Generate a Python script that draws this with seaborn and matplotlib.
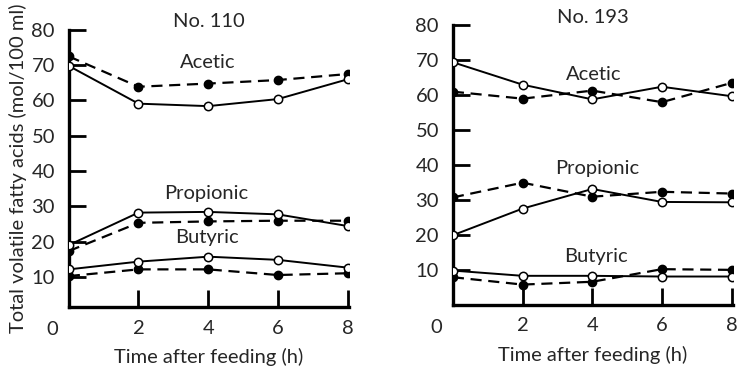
import matplotlib
matplotlib.use("Agg")
import matplotlib.pyplot as plt
import seaborn as sns
import pandas as pd

hours = [0, 2, 4, 6, 8]

# No. 110
acetic_open_110 = [69.8, 59.1, 58.4, 60.4, 66.0]
acetic_filled_110 = [72.5, 63.9, 64.8, 65.8, 67.5]
propionic_open_110 = [19.0, 28.2, 28.4, 27.7, 24.4]
propionic_filled_110 = [17.3, 25.3, 25.7, 25.9, 25.9]
butyric_open_110 = [12.1, 14.3, 15.7, 14.8, 12.6]
butyric_filled_110 = [10.2, 12.1, 12.1, 10.5, 11.0]

# No. 193
acetic_open_193 = [69.3, 62.9, 58.7, 62.3, 59.6]
acetic_filled_193 = [60.9, 58.9, 61.2, 57.9, 63.4]
propionic_open_193 = [19.9, 27.5, 33.1, 29.4, 29.3]
propionic_filled_193 = [30.7, 34.9, 30.9, 32.3, 31.8]
butyric_open_193 = [9.8, 8.3, 8.3, 8.1, 8.1]
butyric_filled_193 = [7.9, 5.8, 6.6, 10.2, 10.0]

panel_titles = ["No. 110", "No. 193"]
acid_names = ["Acetic", "Propionic", "Butyric"]
yticks = [10, 20, 30, 40, 50, 60, 70, 80]
xticks = [2, 4, 6, 8]
xlabel = "Time after feeding (h)"
ylabel = "Total volatile fatty acids (mol/100 ml)"

panels = [
    dict(open=[acetic_open_110, propionic_open_110, butyric_open_110],
         filled=[acetic_filled_110, propionic_filled_110, butyric_filled_110],
         label_pos=[(4.0, 70.8), (3.95, 33.7), (3.97, 21.0)],
         ybottom=1.4, title_y=1.03),
    dict(open=[acetic_open_193, propionic_open_193, butyric_open_193],
         filled=[acetic_filled_193, propionic_filled_193, butyric_filled_193],
         label_pos=[(4.05, 65.7), (4.15, 38.9), (4.12, 13.7)],
         ybottom=0.0, title_y=1.026),
]

sns.set_style("ticks")
plt.rcParams['font.family'] = ['Lato', 'DejaVu Sans']
FS = 14.5

fig = plt.figure(figsize=(7.4, 3.7), dpi=100)
ax_rects = [
    [0.093, 0.170, 0.379, 0.749],
    [0.612, 0.176, 0.379, 0.757],
]

for i, (rect, panel) in enumerate(zip(ax_rects, panels)):
    ax = fig.add_axes(rect)
    for vals in panel["filled"]:
        df = pd.DataFrame({"h": hours, "v": vals})
        sns.lineplot(data=df, x="h", y="v", ax=ax, color="black", lw=1.6,
                     linestyle=(0, (5, 3)), marker="o", markersize=6,
                     markerfacecolor="black", markeredgecolor="black",
                     markeredgewidth=1.0, zorder=3)
    for vals in panel["open"]:
        df = pd.DataFrame({"h": hours, "v": vals})
        sns.lineplot(data=df, x="h", y="v", ax=ax, color="black", lw=1.4,
                     linestyle="-", marker="o", markersize=6,
                     markerfacecolor="white", markeredgecolor="black",
                     markeredgewidth=1.1, zorder=4)
    for name, (lx, ly) in zip(acid_names, panel["label_pos"]):
        ax.text(lx, ly, name, ha="center", va="center", fontsize=FS)
    ax.set_xlim(0, 8.05)
    ax.set_ylim(panel["ybottom"], 80)
    ax.set_yticks(yticks)
    ax.set_xticks(xticks)
    ax.tick_params(axis="both", direction="in", length=12, width=2,
                   labelsize=FS, pad=10, color="black")
    ax.tick_params(axis="x", pad=9)
    for s in ["top", "right"]:
        ax.spines[s].set_visible(False)
    for s in ["left", "bottom"]:
        ax.spines[s].set_linewidth(2.4)
        ax.spines[s].set_color("black")
    ax.annotate("0", xy=(0, panel["ybottom"]), xycoords="data",
                xytext=(-12, -16), textcoords="offset points",
                ha="center", va="center", fontsize=FS)
    ax.text(0.5, panel["title_y"], panel_titles[i], transform=ax.transAxes,
            ha="center", va="center", fontsize=FS)
    ax.set_xlabel(xlabel, fontsize=FS, labelpad=8)
    if i == 0:
        ax.set_ylabel(ylabel, fontsize=FS, labelpad=3)
    else:
        ax.set_ylabel("")

fig.savefig("out.png", dpi=100)
